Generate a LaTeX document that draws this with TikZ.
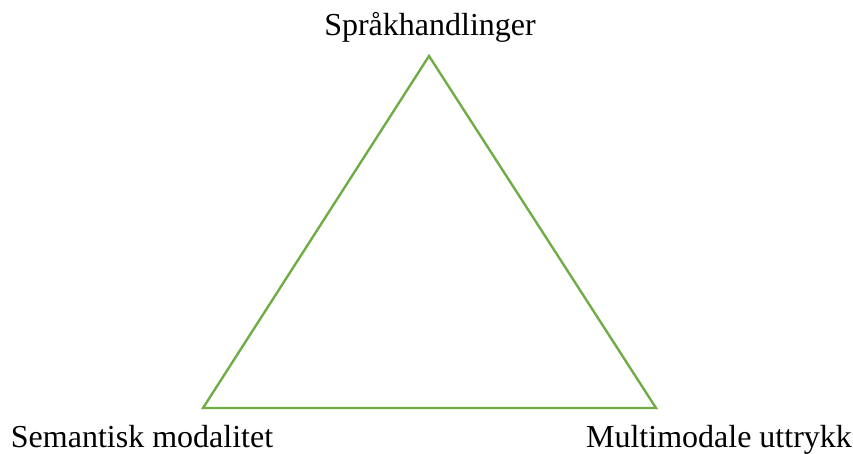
\documentclass[tikz,border=0pt]{standalone}
\usepackage{fontspec}
\setmainfont{Liberation Serif}
\definecolor{tgreen}{HTML}{70AD47}
\begin{document}
\begin{tikzpicture}[x=1pt,y=-1pt,
  lbl/.style={font=\fontsize{32}{37}\selectfont, inner sep=0pt, anchor=base},
  edge/.style={draw=tgreen, line width=2.4pt, line join=miter}]
\useasboundingbox (0,0) rectangle (853,454);
\coordinate (t) at (429,56);
\coordinate (l) at (203,408);
\coordinate (r) at (656,408);
\draw[edge] (t) -- (r) -- (l) -- cycle;
\node[lbl] (nt) at (430,36) {Språkhandlinger};
\node[lbl] (nl) at (142,447) {Semantisk modalitet};
\node[lbl] (nr) at (719,447) {Multimodale uttrykk};
\end{tikzpicture}
\end{document}
